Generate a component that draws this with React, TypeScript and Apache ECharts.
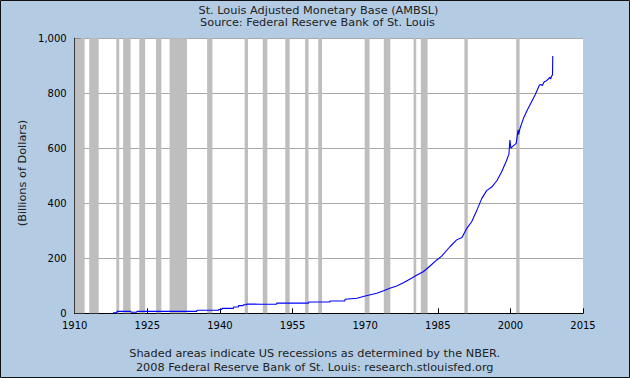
import React, { useEffect, useRef } from "react";
import * as echarts from "echarts";

const titleText = "St. Louis Adjusted Monetary Base (AMBSL)";
const sourceText = "Source: Federal Reserve Bank of St. Louis";
const noteText1 = "Shaded areas indicate US recessions as determined by the NBER.";
const noteText2 = "2008 Federal Reserve Bank of St. Louis: research.stlouisfed.org";
const yAxisName = "(Billions of Dollars)";

// Monetary base, billions of dollars (decimal years)
const dates = [
  1917.9, 1918.7, 1918.75, 1921.6, 1921.65, 1922.8, 1922.85, 1935.2, 1935.25,
  1939.7, 1939.75, 1940.4, 1940.45, 1942.8, 1942.85, 1943.8, 1943.85, 1944.8,
  1944.85, 1945.5, 1945.55, 1948.3, 1951.7, 1951.75, 1958.3, 1958.35, 1962.7,
  1962.75, 1965.8, 1965.85, 1968.3, 1970.0, 1972.4, 1973.8, 1975.1, 1976.5,
  1977.9, 1979.3, 1980.7, 1982.0, 1983.4, 1984.8, 1985.8, 1987.5, 1988.9,
  1990.0, 1991.0, 1992.0, 1993.1, 1994.1, 1995.1, 1996.2, 1997.2, 1998.2,
  1999.1, 1999.7, 1999.9, 2000.1, 2000.3, 2001.2, 2001.6, 2001.7, 2002.0,
  2002.7, 2003.5, 2004.4, 2005.1, 2006.0, 2006.3, 2006.6, 2007.0, 2007.4,
  2007.8, 2008.1, 2008.3, 2008.5, 2008.7, 2008.75,
];
const values = [
  2, 2, 7, 7, 4, 4, 7, 7, 11,
  11, 14, 14, 18, 18, 23, 23, 28, 28,
  31, 31, 34, 33, 33, 37, 37, 41, 41,
  45, 45, 51, 55, 63, 73, 82, 91, 99,
  111, 125, 139, 151, 172, 194, 208, 242, 267,
  276, 309, 333, 376, 418, 446, 460, 482, 515,
  551, 579, 630, 600, 604, 618, 667, 650, 673,
  709, 739, 770, 794, 830, 832, 828, 842, 845,
  851, 858, 852, 862, 867, 936,
];

// NBER recessions [start, end] in decimal years
const recessionStarts = [
  1910.0, 1913.0, 1918.6, 1920.0, 1923.35, 1926.8, 1929.6, 1937.35, 1945.1,
  1948.85, 1953.5, 1957.6, 1960.3, 1969.9, 1973.85, 1980.0, 1981.5, 1990.5, 2001.2,
];
const recessionEnds = [
  1912.05, 1914.95, 1919.2, 1921.55, 1924.55, 1927.9, 1933.2, 1938.45, 1945.8,
  1949.8, 1954.4, 1958.3, 1961.1, 1970.9, 1975.2, 1980.55, 1982.9, 1991.2, 2001.9,
];

const FONT = "DejaVu Sans";

export default function App() {
  const ref = useRef<HTMLDivElement>(null);
  useEffect(() => {
    if (!ref.current) return;
    const chart = echarts.init(ref.current, null, { renderer: "svg" });
    const lineData = dates.map((d, i) => [d, values[i]]);
    const areas = recessionStarts.map((s, i) => [{ xAxis: s }, { xAxis: recessionEnds[i] }]);
    const textEl = (text: string, x: number, y: number, rotation = 0) => ({
      type: "text",
      x,
      y,
      rotation,
      style: {
        text,
        fontFamily: FONT,
        fontSize: 11.3,
        fill: "#222",
        align: "center",
        verticalAlign: "middle",
      },
    });
    chart.setOption({
      animation: false,
      backgroundColor: "#B3CCE4",
      graphic: [
        textEl(titleText, 318.5, 10.4),
        textEl(sourceText, 317.5, 22.8),
        textEl(noteText1, 314.7, 353.4),
        textEl(noteText2, 314.7, 367.8),
        textEl(yAxisName, 22, 173, Math.PI / 2),
        {
          type: "rect",
          shape: { x: 0.5, y: 0.5, width: 629, height: 377 },
          style: { fill: "none", stroke: "#111", lineWidth: 1 },
          z: 100,
        },
      ],
      grid: {
        left: 74.7,
        right: 47,
        top: 38.3,
        bottom: 64.7,
        show: true,
        backgroundColor: "#fff",
        borderWidth: 0,
      },
      xAxis: {
        type: "value",
        min: 1910,
        max: 2015,
        interval: 15,
        axisLine: { lineStyle: { color: "#000", width: 1 } },
        axisTick: { inside: true, length: 5, lineStyle: { color: "#000" } },
        axisLabel: {
          margin: 7,
          fontFamily: FONT,
          fontSize: 10,
          color: "#000",
          formatter: (v: number) => String(v),
        },
        splitLine: { show: false },
      },
      yAxis: {
        type: "value",
        min: 0,
        max: 1000,
        interval: 200,
        axisLine: { show: true, lineStyle: { color: "#000", width: 1 } },
        axisTick: { show: true, inside: true, length: 6, lineStyle: { color: "#000" } },
        axisLabel: { margin: 8, fontFamily: FONT, fontSize: 10, color: "#000" },
        splitLine: { show: true, lineStyle: { color: "#A8A8A8", width: 1 } },
      },
      series: [
        {
          type: "line",
          data: lineData,
          showSymbol: false,
          symbol: "none",
          lineStyle: { color: "#0000FF", width: 1.1 },
          z: 3,
          markArea: {
            silent: true,
            itemStyle: { color: "#BEBEBE" },
            data: areas,
          },
        },
      ],
    });
    return () => chart.dispose();
  }, []);
  return (
    <div
      ref={ref}
      style={{ position: "fixed", left: 0, top: 0, width: 630, height: 378 }}
    />
  );
}
